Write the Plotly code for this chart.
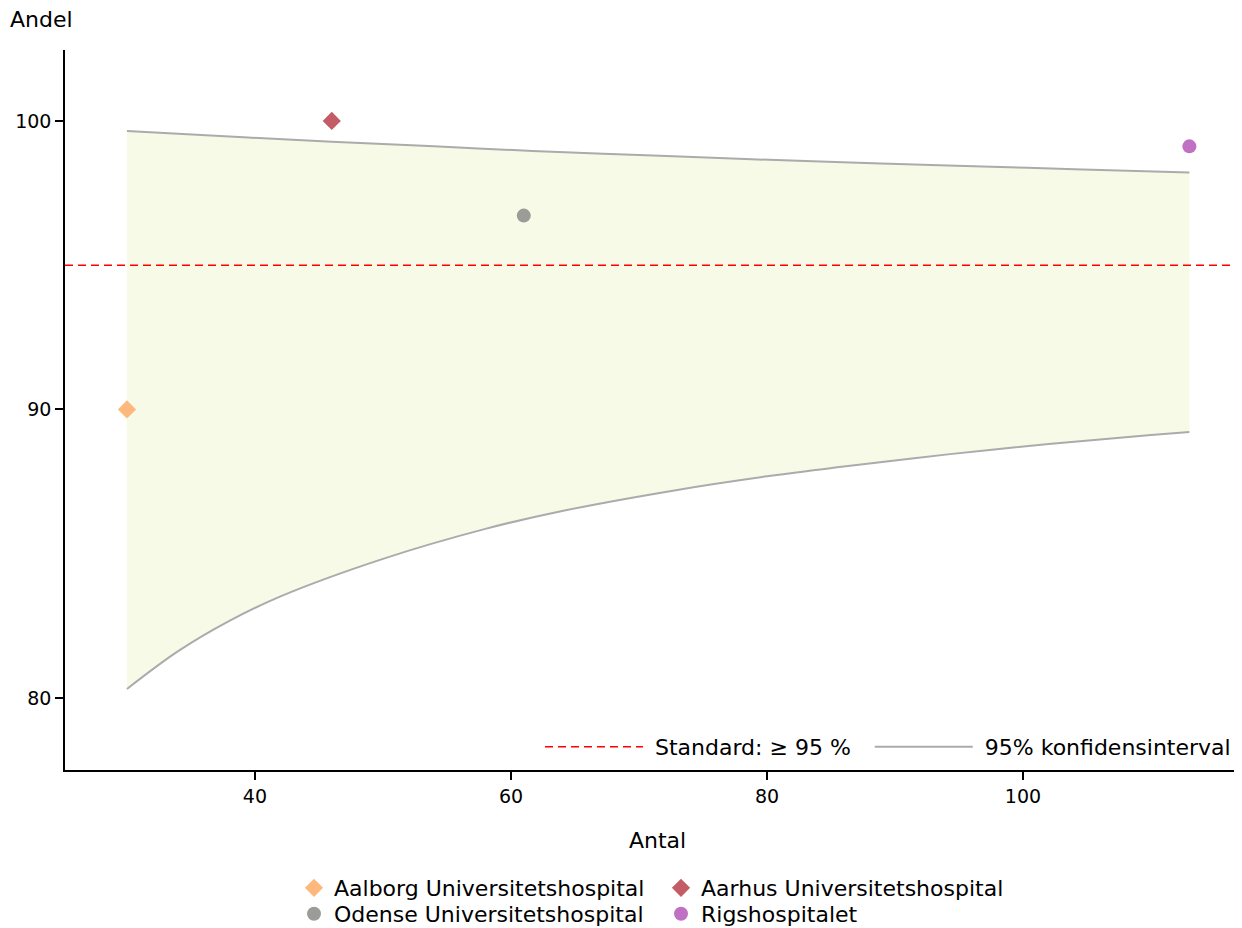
import plotly.graph_objects as go

# ---- data ----
hospitals = ["Aalborg Universitetshospital", "Aarhus Universitetshospital",
             "Odense Universitetshospital", "Rigshospitalet"]
antal = [30, 46, 61, 113]
andel = [90.0, 100.0, 96.72, 99.12]
colors = ["#FDB97D", "#C45C66", "#9B9C98", "#C071C3"]
symbols = ["diamond", "diamond", "circle", "circle"]
legend_ids = ["legend", "legend", "legend3", "legend3"]

upper_n = [30, 38, 46, 54, 61.7, 70, 78.3, 86.5, 94.8, 104, 113]
upper_v = [99.65, 99.46, 99.28, 99.12, 98.96, 98.82, 98.68, 98.56, 98.45, 98.33, 98.21]
lower_n = [30, 34, 38, 42, 50, 58, 64, 73, 80, 86.5, 94.3, 102, 110, 113]
lower_v = [80.31, 81.62, 82.67, 83.52, 84.82, 85.86, 86.48, 87.21, 87.68, 88.05, 88.45, 88.80, 89.11, 89.22]

standard = 95
standard_label = "Standard: ≥ 95 %"
ci_label = "95% konfidensinterval"
x_range = [25.16, 117.11]
y_range = [77.5, 102.46]
x_ticks = [40, 60, 80, 100]
y_ticks = [80, 90, 100]

FONT = "DejaVu Sans"
NB = "\u00a0"
W, H = 1234, 920
ML, MT, MB = 57, 42, 158
PW, PH = W - ML, H - MT - MB
BOTTOM = MT + PH  # plot bottom in figure px

fig = go.Figure()

# confidence band fill
fig.add_trace(go.Scatter(x=lower_n, y=lower_v, mode="lines", line=dict(width=0, shape="spline"),
                         showlegend=False, hoverinfo="skip"))
fig.add_trace(go.Scatter(x=upper_n, y=upper_v, mode="lines", line=dict(width=0, shape="spline"),
                         fill="tonexty", fillcolor="#F7FAE6", showlegend=False, hoverinfo="skip"))

# standard line
fig.add_trace(go.Scatter(x=x_range, y=[standard, standard], mode="lines",
                         line=dict(color="#FF0000", width=1.5, dash="8px,5px"),
                         name=NB + standard_label + NB + NB, legend="legend2"))
# CI lines
fig.add_trace(go.Scatter(x=upper_n, y=upper_v, mode="lines",
                         line=dict(color="#ABABAB", width=2, shape="spline"),
                         name=NB + ci_label, legend="legend2"))
fig.add_trace(go.Scatter(x=lower_n, y=lower_v, mode="lines",
                         line=dict(color="#ABABAB", width=2, shape="spline"),
                         showlegend=False))

for h, n, v, c, s, lg in zip(hospitals, antal, andel, colors, symbols, legend_ids):
    fig.add_trace(go.Scatter(x=[n], y=[v], mode="markers", name=h, legend=lg,
                             marker=dict(color=c, symbol=s, size=14, line=dict(width=0))))

axis_common = dict(showgrid=False, zeroline=False, showline=True, linecolor="black", linewidth=1.5,
                   ticks="outside", ticklen=8, tickwidth=1.5, tickcolor="black",
                   tickfont=dict(family=FONT, size=19, color="black"))

legend_common = dict(orientation="h", xanchor="center", yanchor="middle", traceorder="normal",
                     entrywidth=322, entrywidthmode="pixels", font=dict(family=FONT, size=22),
                     bgcolor="rgba(0,0,0,0)")

fig.update_layout(
    width=W, height=H,
    margin=dict(l=ML, r=0, t=MT, b=MB, autoexpand=False),
    plot_bgcolor="white", paper_bgcolor="white",
    font=dict(family=FONT, size=22, color="black"),
    xaxis=dict(range=x_range, tickvals=x_ticks, **axis_common),
    yaxis=dict(range=y_range, tickvals=y_ticks, **axis_common),
    legend=dict(x=0.5 + 7.5 / PW, y=(BOTTOM - 880) / PH, **legend_common),
    legend3=dict(x=0.5 + 7.5 / PW, y=(BOTTOM - 906) / PH, **legend_common),
    legend2=dict(orientation="h", x=1 - 6 / PW, xanchor="right", y=(BOTTOM - 739) / PH,
                 yanchor="middle", traceorder="normal", itemwidth=98,
                 font=dict(family=FONT, size=22), bgcolor="rgba(0,0,0,0)"),
    annotations=[
        dict(text="Andel", xref="paper", yref="paper", x=(0 - ML) / PW, y=(BOTTOM - 12) / PH,
             xanchor="left", yanchor="middle", showarrow=False, font=dict(family=FONT, size=22)),
        dict(text="Antal", xref="paper", yref="paper", x=(649 - ML) / PW, y=(BOTTOM - 832) / PH,
             xanchor="center", yanchor="middle", showarrow=False, font=dict(family=FONT, size=22)),
    ],
)

fig.write_html("out.html")
